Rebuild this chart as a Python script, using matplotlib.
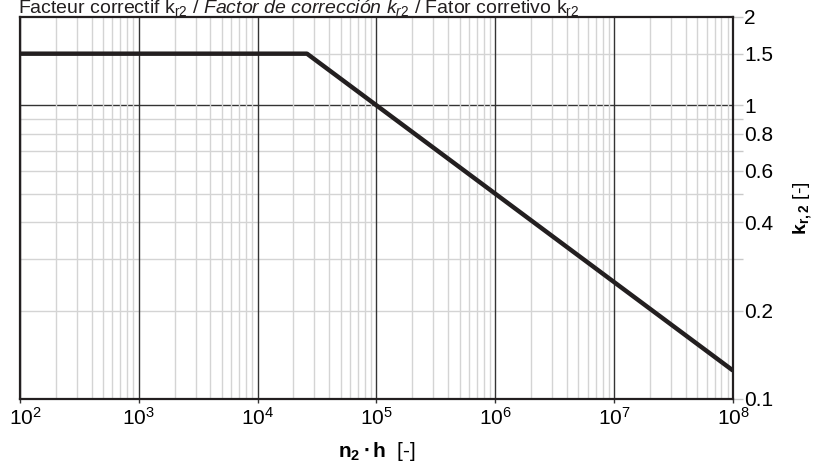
import matplotlib
matplotlib.use("Agg")
import matplotlib.pyplot as plt
import matplotlib.transforms as mtransforms
from matplotlib.ticker import FixedLocator, NullFormatter, FixedFormatter, LogLocator

fam = "Liberation Sans"
plt.rcParams['font.family'] = [fam, 'DejaVu Sans']
plt.rcParams['mathtext.fontset'] = 'custom'
plt.rcParams['mathtext.rm'] = fam
plt.rcParams['mathtext.it'] = fam + ':italic'
plt.rcParams['mathtext.bf'] = fam + ':bold'

# data
n2h = [1e2, 2.6e4, 1e5, 1e6, 1e7, 1e8]
kr2 = [1.5, 1.5, 1.0, 0.5, 0.25, 0.125]
y_major = [0.1, 0.2, 0.4, 0.6, 0.8, 1, 1.5, 2]
y_major_labels = ["0.1", "0.2", "0.4", "0.6", "0.8", "1", "1.5", "2"]
y_minor = [0.3, 0.5, 0.7, 0.9]
x_major = [1e2, 1e3, 1e4, 1e5, 1e6, 1e7, 1e8]
x_major_labels = [r'$10^2$', r'$10^3$', r'$10^4$', r'$10^5$', r'$10^6$', r'$10^7$', r'$10^8$']

fig = plt.figure(figsize=(8.2, 4.63), dpi=100)
ax = fig.add_axes([20/820, 1-399/463, (733-20)/820, (399-17)/463])
ax.set_xscale('log')
ax.set_yscale('log')
ax.set_xlim(1e2, 1e8)
ax.set_ylim(0.1, 2)

# grids
ax.xaxis.set_major_locator(FixedLocator(x_major))
ax.xaxis.set_major_formatter(FixedFormatter(x_major_labels))
ax.xaxis.set_minor_locator(LogLocator(base=10, subs=range(2, 10), numticks=100))
ax.xaxis.set_minor_formatter(NullFormatter())
ax.grid(which='minor', axis='x', color='#d4d4d4', lw=1.0)
ax.grid(which='major', axis='x', color='#333333', lw=1.0)
for v in y_major + y_minor:
    if v in (0.1, 2):
        continue
    ax.axhline(v, color='#333333' if v == 1 else '#d4d4d4', lw=1.0, zorder=1)

ax.plot(n2h, kr2, color='#231f20', lw=3.2, solid_capstyle='butt', zorder=3)

ax.yaxis.set_major_locator(FixedLocator(y_major))
ax.yaxis.set_major_formatter(FixedFormatter(y_major_labels))
ax.yaxis.set_minor_locator(FixedLocator(y_minor))
ax.yaxis.set_minor_formatter(NullFormatter())
ax.yaxis.tick_right()
ax.yaxis.set_label_position('right')
ax.tick_params(axis='y', which='both', length=7, color='#c8c8c8', width=1, labelsize=15, pad=1)
ax.tick_params(axis='x', which='major', length=3, color='#333333', width=1, labelsize=15, pad=3)
ax.tick_params(axis='x', which='minor', length=0)

# nudge the first x label so it stays inside the figure
fig.canvas.draw()
first = ax.get_xticklabels()[0]
first.set_transform(first.get_transform() + mtransforms.ScaledTranslation(5/100, 0, fig.dpi_scale_trans))

for s in ax.spines.values():
    s.set_color('#231f20')
    s.set_linewidth(1.6)

ax.set_xlabel(r'$\mathbf{n_2 \bullet h}$  [-]', fontsize=15, labelpad=8)
ax.set_ylabel(r'$\mathbf{k_{r,2}}$ [-]', fontsize=14, labelpad=13)

fig.text(18/820, 1-13.5/463,
         r'Facteur correctif k$_{\mathrm{r2}}$ / $\mathit{Factor\ de\ corrección\ k_{r2}}$ / Fator corretivo k$_{\mathrm{r2}}$',
         fontsize=14, ha='left', va='baseline', color='#231f20')

fig.savefig('out.png', dpi=100)
